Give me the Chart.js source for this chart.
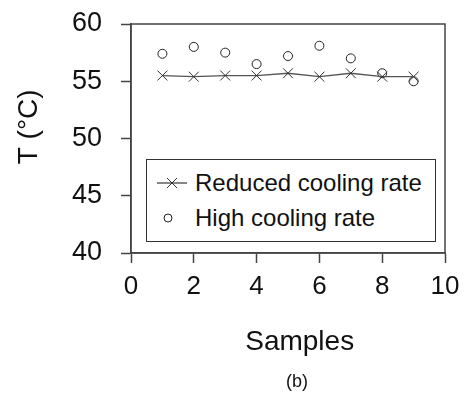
<!DOCTYPE html>
<html>
<head>
<meta charset="utf-8">
<script src="https://cdn.jsdelivr.net/npm/chart.js@4/dist/chart.umd.min.js"></script>
<style>
  body { margin: 0; background: #fff; }
  #wrap { position: relative; width: 464px; height: 400px; font-family: "Liberation Sans", Arial, sans-serif; }
  #legend {
    position: absolute; left: 146px; top: 159px; width: 290px; height: 83px;
    border: 1px solid #333; background: #fff; box-sizing: border-box;
  }
  .row { position: absolute; left: 0; height: 30px; line-height: 30px; font-size: 24px; color: #111; }
  .row svg { position: absolute; left: 8px; top: 5px; }
  .row span { position: absolute; left: 48px; white-space: nowrap; }
  #caption { position: absolute; left: 272px; width: 50px; top: 371px; text-align: center; font-size: 18px; color: #111; }
</style>
</head>
<body>
<div id="wrap">
  <canvas id="chart" width="464" height="400"></canvas>
  <div id="legend">
    <div class="row" style="top:8px">
      <svg width="34" height="20"><line x1="2" y1="10" x2="32" y2="10" stroke="#444" stroke-width="1.3"/><path d="M12 5 L22 15 M22 5 L12 15" stroke="#333" stroke-width="1"/></svg>
      <span>Reduced cooling rate</span>
    </div>
    <div class="row" style="top:43px">
      <svg width="34" height="20"><circle cx="13" cy="10" r="4" fill="#fff" stroke="#222" stroke-width="1"/></svg>
      <span>High cooling rate</span>
    </div>
  </div>
  <div id="caption">(b)</div>
</div>
<script>
const samples = [1, 2, 3, 4, 5, 6, 7, 8, 9];
const reducedRate = [55.5, 55.4, 55.5, 55.5, 55.7, 55.4, 55.7, 55.4, 55.4];
const highRate = [57.4, 58.0, 57.5, 56.5, 57.2, 58.1, 57.0, 55.7, 55.0];

const font = { family: '"Liberation Sans", Arial, sans-serif' };

// box round the plot area
const frame = {
  id: 'frame',
  afterDatasetsDraw(chart) {
    const a = chart.chartArea, ctx = chart.ctx;
    ctx.save();
    ctx.strokeStyle = '#444';
    ctx.lineWidth = 1.5;
    ctx.strokeRect(a.left, a.top, a.right - a.left, a.bottom - a.top);
    ctx.restore();
  }
};

new Chart(document.getElementById('chart'), {
  type: 'line',
  data: {
    datasets: [
      {
        label: 'Reduced cooling rate',
        data: samples.map((s, i) => ({ x: s, y: reducedRate[i] })),
        borderColor: '#555',
        borderWidth: 1.3,
        pointStyle: 'crossRot',
        pointRadius: 7,
        pointBorderColor: '#333',
        pointBorderWidth: 1,
        tension: 0
      },
      {
        label: 'High cooling rate',
        data: samples.map((s, i) => ({ x: s, y: highRate[i] })),
        showLine: false,
        pointStyle: 'circle',
        pointRadius: 4.5,
        pointBackgroundColor: '#fff',
        pointBorderColor: '#222',
        pointBorderWidth: 1
      }
    ]
  },
  options: {
    responsive: false,
    animation: false,
    devicePixelRatio: 1,
    layout: { padding: { top: 24, right: 19, left: 0, bottom: 0 } },
    plugins: { legend: { display: false }, tooltip: { enabled: false } },
    scales: {
      x: {
        type: 'linear', min: 0, max: 10,
        afterFit: s => { s.height = 147; s.paddingLeft = 0; s.paddingRight = 0; },
        border: { display: true, color: '#444', width: 1.5 },
        grid: { drawOnChartArea: false, drawTicks: true, tickLength: 10, tickColor: '#444', tickWidth: 1.5 },
        ticks: { stepSize: 2, padding: 8, color: '#111', font: { ...font, size: 26 } },
        title: { display: true, text: '   Samples', color: '#111', font: { ...font, size: 28 }, padding: { top: 0, bottom: 41 } }
      },
      y: {
        type: 'linear', min: 40, max: 60,
        afterFit: s => { s.width = 131; s.paddingTop = 0; s.paddingBottom = 0; },
        border: { display: true, color: '#444', width: 1.5 },
        grid: { drawOnChartArea: false, drawTicks: true, tickLength: 10, tickColor: '#444', tickWidth: 1.5 },
        ticks: { stepSize: 5, padding: 19, color: '#111', font: { ...font, size: 27 } },
        title: { display: true, text: '   T (°C)', color: '#111', font: { ...font, size: 28 }, padding: { top: 12, bottom: 0 } }
      }
    }
  },
  plugins: [frame]
});
</script>
</body>
</html>
